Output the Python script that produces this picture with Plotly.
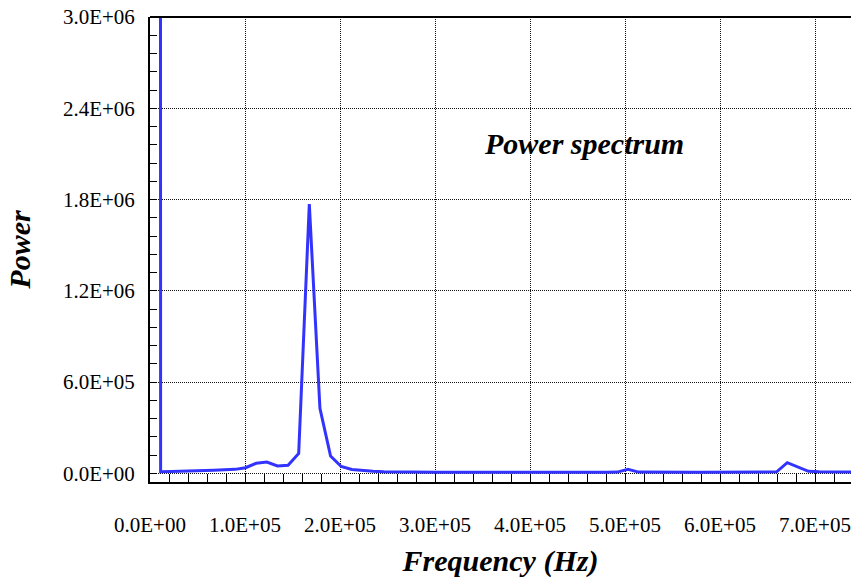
import plotly.graph_objects as go

# ---- data ----
freq_step_hz = 11180.0
power = [
    2.5e8,   # DC component (off scale)
    1.05e4, 1.2e4, 1.3e4, 1.5e4, 1.7e4, 2.0e4, 2.3e4, 2.6e4, 3.7e4, 6.6e4,
    7.4e4, 4.8e4, 5.3e4, 1.31e5, 1.77e6, 4.27e5, 1.14e5, 4.5e4, 2.5e4, 1.8e4,
    1.4e4, 1.05e4, 9.0e3, 8.5e3, 8.0e3, 8.0e3, 7.5e3, 7.5e3, 8.0e3, 1.1e4,
    8.0e3, 7.5e3, 7.5e3, 7.0e3, 7.0e3, 7.0e3, 7.0e3, 7.0e3, 7.0e3, 7.0e3,
    7.0e3, 7.0e3, 7.0e3, 8.0e3, 2.6e4, 8.0e3, 7.0e3, 7.0e3, 7.0e3, 7.0e3,
    7.0e3, 7.0e3, 7.0e3, 7.0e3, 7.0e3, 7.0e3, 7.0e3, 7.5e3, 1.0e4, 7.0e4,
    4.3e4, 1.3e4, 1.0e4, 9.5e3, 9.0e3, 9.0e3, 9.0e3,
]
frequency = [i * freq_step_hz for i in range(len(power))]

x_tick_vals = [0, 1e5, 2e5, 3e5, 4e5, 5e5, 6e5, 7e5]
x_tick_labels = ["0.0E+00", "1.0E+05", "2.0E+05", "3.0E+05",
                 "4.0E+05", "5.0E+05", "6.0E+05", "7.0E+05"]
y_tick_vals = [0, 6e5, 1.2e6, 1.8e6, 2.4e6, 3.0e6]
y_tick_labels = ["0.0E+00", "6.0E+05", "1.2E+06", "1.8E+06", "2.4E+06", "3.0E+06"]

chart_title = "Power spectrum"
x_title = "Frequency (Hz)"
y_title = "Power"

# ---- figure ----
serif = "Liberation Serif, Times New Roman, serif"

fig = go.Figure()
fig.add_trace(go.Scatter(
    x=frequency, y=power, mode="lines",
    line=dict(color="#3333ff", width=3),
    showlegend=False, hoverinfo="x+y",
))

fig.update_layout(
    width=851, height=578,
    margin=dict(l=150, r=0, t=17, b=96, autoexpand=False),
    paper_bgcolor="white", plot_bgcolor="white",
    font=dict(family=serif, color="black"),
    showlegend=False,
)

fig.update_xaxes(
    range=[0, 7.379e5],
    automargin=False,
    ticklabeloverflow="allow",
    tickvals=x_tick_vals, ticktext=x_tick_labels,
    tickfont=dict(family=serif, size=21, color="black"),
    ticks="inside", ticklen=8, tickwidth=1, tickcolor="black",
    ticklabelstandoff=23,
    minor=dict(dtick=2e4, tick0=0, ticks="inside", ticklen=8,
               tickwidth=1, tickcolor="black", showgrid=False),
    showgrid=True, gridcolor="#111111", gridwidth=1, griddash="1px,1px",
    zeroline=False,
    showline=True, linecolor="black", linewidth=2,
    title=dict(text=f"<b><i>{x_title}</i></b>",
               font=dict(family=serif, size=30, color="black"),
               standoff=16),
)

fig.update_yaxes(
    range=[-5.7e4, 3.0e6],
    automargin=False,
    ticklabeloverflow="allow",
    tickvals=y_tick_vals, ticktext=y_tick_labels,
    tickfont=dict(family=serif, size=21, color="black"),
    ticks="inside", ticklen=7, tickwidth=1, tickcolor="black",
    ticklabelstandoff=9,
    minor=dict(dtick=1.2e5, tick0=0, ticks="inside", ticklen=7,
               tickwidth=1, tickcolor="black", showgrid=False),
    showgrid=True, gridcolor="#111111", gridwidth=1, griddash="1px,1px",
    zeroline=False,
    showline=True, linecolor="black", linewidth=2,
    title=dict(text=f"<b><i>{y_title}</i></b>",
               font=dict(family=serif, size=30, color="black"),
               standoff=23),
)

# top border of the frame
fig.add_shape(type="line", xref="paper", yref="paper",
              x0=0, x1=1, y0=1, y1=1,
              line=dict(color="black", width=2))

fig.add_annotation(
    text=f"<b><i>{chart_title}</i></b>",
    xref="paper", yref="paper", x=0.619, y=0.729,
    xanchor="center", yanchor="middle",
    showarrow=False,
    font=dict(family=serif, size=30, color="black"),
)

fig.write_html(
    "out.html",
    config={"displayModeBar": False},
    post_script="document.body.style.margin='0';document.body.style.overflow='hidden';",
)
